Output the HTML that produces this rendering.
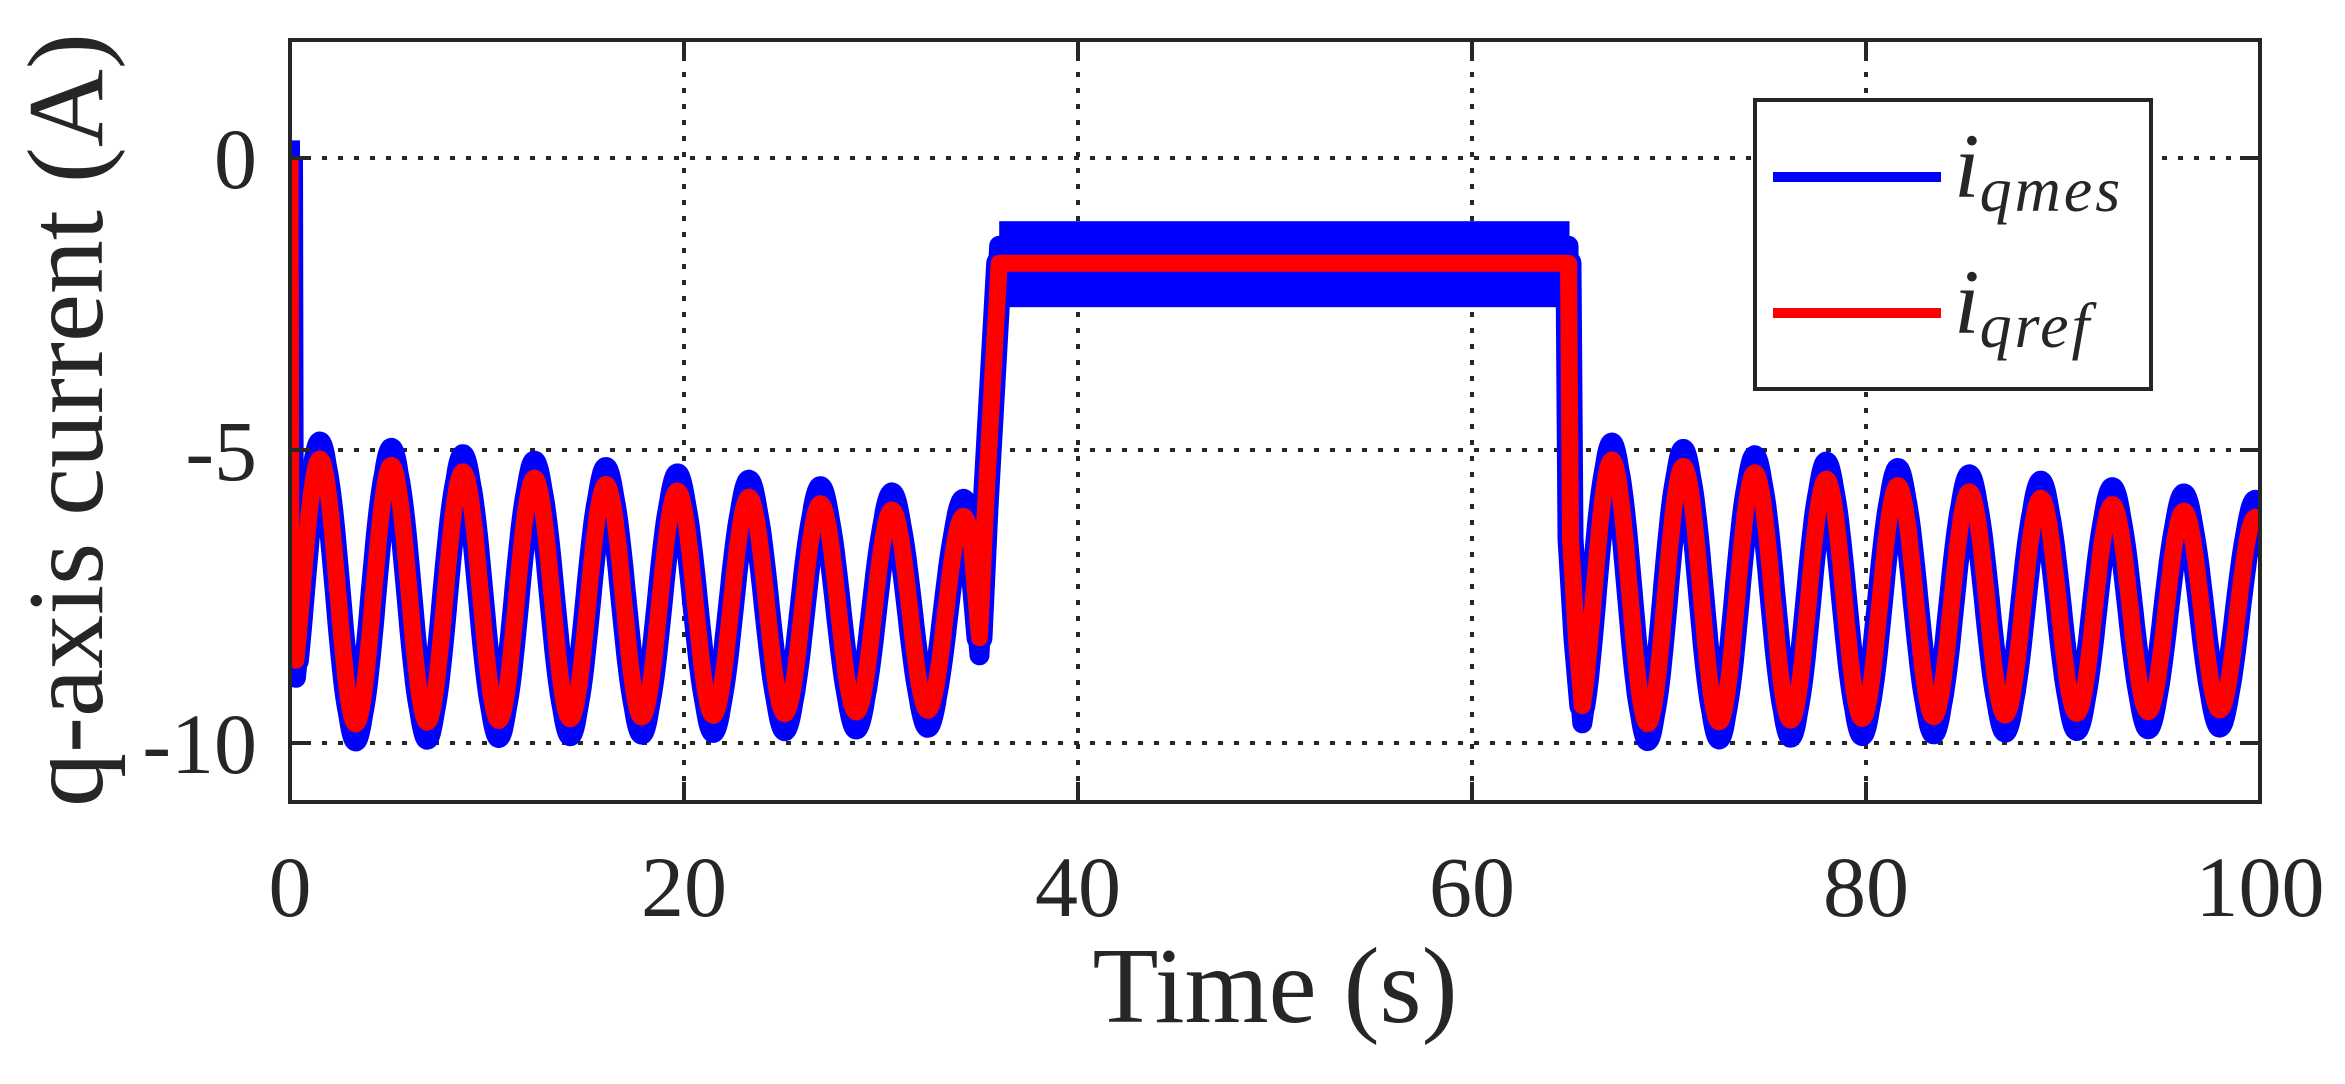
<!DOCTYPE html>
<html><head><meta charset="utf-8"><style>
html,body{margin:0;padding:0;background:#fff;}
svg{display:block;}
text{font-family:"Liberation Serif",serif;fill:#262626;}
</style></head><body>
<svg id="s" width="2345" height="1084" viewBox="0 0 2345 1084" xmlns="http://www.w3.org/2000/svg">
<rect width="2345" height="1084" fill="#fff"/>
<g stroke="#262626" stroke-width="4" stroke-dasharray="5 11" fill="none">
<line x1="684" y1="40" x2="684" y2="802"/>
<line x1="1078" y1="40" x2="1078" y2="802"/>
<line x1="1472" y1="40" x2="1472" y2="802"/>
<line x1="1866" y1="40" x2="1866" y2="802"/>
<line x1="290" y1="158" x2="2260" y2="158"/>
<line x1="290" y1="450" x2="2260" y2="450"/>
<line x1="290" y1="743" x2="2260" y2="743"/>
</g>
<g id="data"></g>
<g stroke="#262626" stroke-width="4" fill="none">
<rect x="290" y="40" width="1970" height="762"/>
<path d="M684 802v-20M1078 802v-20M1472 802v-20M1866 802v-20M684 40v20M1078 40v20M1472 40v20M1866 40v20M290 158h20M290 450h20M290 743h20M2260 158h-20M2260 450h-20M2260 743h-20"/>
</g>
<g font-size="86" text-anchor="middle">
<text x="290" y="916">0</text><text x="684" y="916">20</text><text x="1078" y="916">40</text>
<text x="1472" y="916">60</text><text x="1866" y="916">80</text><text x="2260" y="916">100</text>
</g>
<g font-size="86" text-anchor="end">
<text x="257" y="188">0</text><text x="257" y="480">-5</text><text x="257" y="773">-10</text>
</g>
<text x="1275" y="1022" font-size="108" text-anchor="middle">Time (s)</text>
<text transform="translate(102,420) rotate(-90)" font-size="108" text-anchor="middle">q-axis current (A)</text>
<rect x="1755" y="100" width="396" height="289" fill="#fff" stroke="#262626" stroke-width="4"/>
<line x1="1773" y1="177" x2="1941" y2="177" stroke="#0000ff" stroke-width="10"/>
<line x1="1773" y1="313" x2="1941" y2="313" stroke="#ff0000" stroke-width="10"/>
<text x="1954" y="197" font-size="92" font-style="italic">i<tspan font-size="64" dy="14" letter-spacing="3">qmes</tspan></text>
<text x="1954" y="333" font-size="92" font-style="italic">i<tspan font-size="64" dy="14" letter-spacing="3">qref</tspan></text>
</svg>
<script>
(function(){
var X=function(t){return 290+t*19.7;}, Y=function(v){return 158-v*58.5;};
function osc(t,tp,P,t0){var k=t-t0;var pk=-5.1-0.03*k, tr=-9.7+0.008*k;var c=(pk+tr)/2,a=(pk-tr)/2;return c+a*Math.cos(2*Math.PI*(t-tp)/P);}
var pts=[[0,0],[0.05,-8.2]];
for(var t=0.3;t<=34.6;t+=0.05)pts.push([t,osc(t,1.52,3.63,0)]);
pts.push([35.0,-8.2],[35.3,-6],[36,-1.8],[64.9,-1.8],[65.0,-6.5],[65.3,-8.2]);
for(var t=65.6;t<=100;t+=0.05)pts.push([t,osc(t,67.1,3.63,65)]);
function mk(off){var d='';for(var i=0;i<pts.length;i++){d+=(i?'L':'M')+X(pts[i][0]).toFixed(1)+' '+Y(pts[i][1]+off).toFixed(1);}return d;}
var ns='http://www.w3.org/2000/svg',g=document.getElementById('data');
var cp=document.createElementNS(ns,'clipPath');cp.setAttribute('id','c');
var cr=document.createElementNS(ns,'rect');cr.setAttribute('x',290);cr.setAttribute('y',40);cr.setAttribute('width',1970);cr.setAttribute('height',762);cp.appendChild(cr);g.appendChild(cp);
var gg=document.createElementNS(ns,'g');gg.setAttribute('clip-path','url(#c)');g.appendChild(gg);
function add(d,col,w){var p=document.createElementNS(ns,'path');p.setAttribute('d',d);p.setAttribute('fill','none');p.setAttribute('stroke',col);p.setAttribute('stroke-width',w);p.setAttribute('stroke-linejoin','round');gg.appendChild(p);}
add(mk(0.3),'#0000ff',20);add(mk(-0.3),'#0000ff',20);add(mk(0),'#0000ff',26);
var r=document.createElementNS(ns,'rect');r.setAttribute('x',X(36));r.setAttribute('y',Y(-1.08));r.setAttribute('width',X(64.95)-X(36));r.setAttribute('height',Y(-2.55)-Y(-1.08));r.setAttribute('fill','#0000ff');gg.appendChild(r);
add(mk(0),'#ff0000',17);
})();
</script>
</body></html>
